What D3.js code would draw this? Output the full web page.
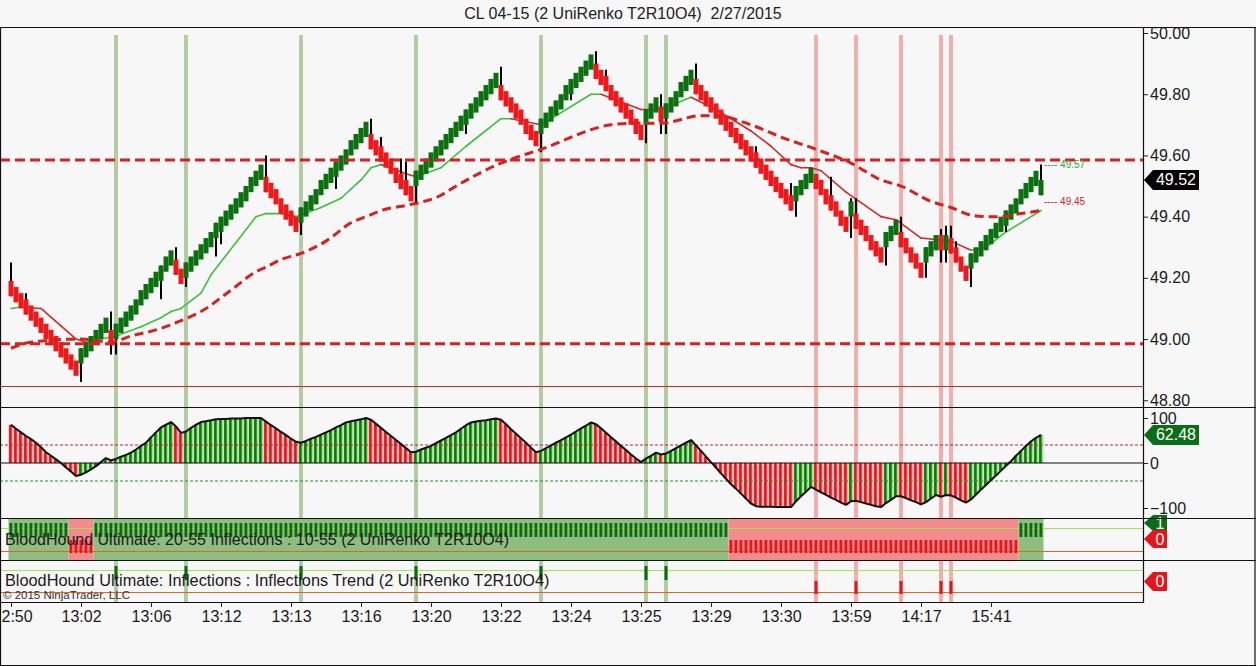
<!DOCTYPE html>
<html>
<head>
<meta charset="utf-8">
<script src="https://cdn.jsdelivr.net/npm/d3@7"></script>
<style>
html,body{margin:0;padding:0;background:#f7f7f7;}
svg{display:block;}
</style>
</head>
<body>
<svg id="chart" width="1256" height="666"></svg>
<script>
// ---------------- data ----------------
const title = "CL 04-15 (2 UniRenko T2R10O4)  2/27/2015";

const closes = [
  49.14,49.12,49.10,49.08,49.06,49.04,49.02,49.00,48.98,48.96,48.94,48.92,48.90,48.88,
  48.97,48.99,49.01,49.03,49.05,49.07,
  48.98,
  49.05,49.07,49.09,49.11,49.13,49.16,49.18,49.20,49.22,49.24,49.27,49.29,
  49.21,49.18,
  49.25,49.27,49.29,49.31,49.33,49.35,49.38,49.40,49.42,49.44,49.46,49.48,49.50,49.53,49.55,49.57,
  49.48,49.46,49.44,49.41,49.39,49.37,49.35,
  49.43,49.45,49.47,49.49,49.52,49.54,49.56,49.58,49.60,49.62,49.65,49.67,49.69,49.71,
  49.62,49.60,49.58,49.56,49.54,49.51,49.49,49.47,49.45,
  49.55,49.57,49.59,49.61,49.63,49.65,49.67,49.69,49.71,49.73,49.75,49.77,49.79,49.81,49.83,49.85,49.87,
  49.78,49.76,49.74,49.72,49.70,49.67,49.65,49.63,
  49.72,49.74,49.76,49.78,49.80,49.83,49.85,49.87,49.89,49.91,49.93,
  49.85,49.83,49.81,49.78,49.76,49.74,49.72,49.70,49.67,49.65,
  49.75,49.77,49.79,
  49.71,
  49.77,49.79,49.81,49.84,49.86,49.88,
  49.80,49.78,49.76,49.74,49.72,49.70,49.68,49.66,49.64,49.62,49.60,49.58,49.56,49.54,49.52,49.50,49.48,49.46,49.44,49.42,
  49.50,49.52,49.54,49.56,
  49.49,49.47,49.44,49.42,49.40,49.37,49.35,
  49.45,
  49.36,49.34,49.32,49.29,49.27,49.25,
  49.35,49.37,49.39,
  49.30,49.28,49.25,49.23,49.20,
  49.30,49.32,49.34,
  49.29,
  49.34,
  49.28,49.25,49.22,49.19,
  49.28,49.30,49.32,49.34,49.36,49.38,49.40,49.42,49.44,49.46,49.49,49.51,49.53,49.55,
  49.52
];

// +1 = up (green) brick, -1 = down (red) brick
const brickDir = [
  -1,-1,-1,-1,-1,-1,-1,-1,-1,-1,-1,-1,-1,-1,
  1,1,1,1,1,1,
  -1,
  1,1,1,1,1,1,1,1,1,1,1,1,
  -1,-1,
  1,1,1,1,1,1,1,1,1,1,1,1,1,1,1,1,
  -1,-1,-1,-1,-1,-1,-1,
  1,1,1,1,1,1,1,1,1,1,1,1,1,1,
  -1,-1,-1,-1,-1,-1,-1,-1,-1,
  1,1,1,1,1,1,1,1,1,1,1,1,1,1,1,1,1,
  -1,-1,-1,-1,-1,-1,-1,-1,
  1,1,1,1,1,1,1,1,1,1,1,
  -1,-1,-1,-1,-1,-1,-1,-1,-1,-1,
  1,1,1,
  -1,
  1,1,1,1,1,1,
  -1,-1,-1,-1,-1,-1,-1,-1,-1,-1,-1,-1,-1,-1,-1,-1,-1,-1,-1,-1,
  1,1,1,1,
  -1,-1,-1,-1,-1,-1,-1,
  1,
  -1,-1,-1,-1,-1,-1,
  1,1,1,
  -1,-1,-1,-1,-1,
  1,1,1,
  -1,
  1,
  -1,-1,-1,-1,
  1,1,1,1,1,1,1,1,1,1,1,1,1,1,
  1
];
const brickBody = 0.05; // open offset of a UniRenko brick

// [bar, low, high]
const wicks = [
  [0,49.14,49.25],[3,49.08,49.15],[14,48.86,48.97],[20,48.95,49.09],[21,48.95,49.05],
  [30,49.13,49.24],[33,49.21,49.30],[35,49.17,49.25],[41,49.27,49.38],[42,49.31,49.40],
  [51,49.48,49.60],[58,49.34,49.43],[65,49.49,49.58],[72,49.62,49.72],[74,49.58,49.66],
  [78,49.49,49.59],[79,49.47,49.58],[81,49.44,49.55],[91,49.67,49.75],[98,49.78,49.89],
  [106,49.61,49.72],[112,49.78,49.85],[117,49.85,49.94],[119,49.81,49.88],[127,49.64,49.75],
  [130,49.67,49.80],[131,49.67,49.77],[137,49.80,49.90],[149,49.56,49.63],[156,49.42,49.51],
  [157,49.40,49.50],[164,49.42,49.53],[168,49.33,49.46],[169,49.36,49.46],[175,49.24,49.35],
  [178,49.30,49.40],[183,49.20,49.30],[186,49.25,49.36],[187,49.25,49.37],[188,49.28,49.37],
  [189,49.25,49.32],[192,49.17,49.28],[199,49.35,49.42],[206,49.47,49.57]
];

// [bar, value]
const fastMA = [
  [0,49.10],[2,49.105],[6,49.10],[13,49.00],[15,48.99],[21,49.01],[26,49.04],[30,49.07],[32,49.09],
  [34,49.10],[38,49.15],[40,49.21],[49,49.40],[51,49.41],[54,49.41],[57,49.40],[62,49.43],
  [66,49.46],[70,49.52],[72,49.56],[74,49.57],[79,49.54],[81,49.53],[86,49.56],[91,49.63],
  [98,49.72],[100,49.72],[106,49.70],[116,49.80],[118,49.80],[126,49.75],[130,49.75],
  [136,49.79],[141,49.75],[148,49.68],[152,49.63],[156,49.57],[158,49.56],[160,49.56],
  [162,49.55],[167,49.48],[174,49.40],[177,49.39],[182,49.33],[188,49.32],[192,49.29],
  [195,49.30],[199,49.35],[206,49.42]
];

const slowMA = [
  [0,48.97],[4,48.99],[14,49.00],[20,48.99],[24,49.01],[29,49.03],[34,49.06],[38,49.09],
  [44,49.16],[49,49.22],[51,49.235],[54,49.26],[58,49.28],[63,49.32],[68,49.38],[71,49.40],
  [74,49.42],[80,49.44],[86,49.47],[88,49.49],[98,49.575],[106,49.62],[120,49.70],
  [124,49.705],[130,49.705],[138,49.73],[141,49.73],[148,49.70],[154,49.66],[161,49.62],
  [168,49.575],[174,49.52],[178,49.50],[184,49.45],[188,49.43],[192,49.405],[195,49.40],
  [198,49.40],[202,49.41],[206,49.42]
];

const oscValues = [
  85,76,68,60,53,45,35,24,16,8,
  0,-10,-19,-29,-26,-21,-14,-7,2,11,
  6,9,14,18,23,30,38,45,57,68,
  79,85,91,81,67,70,78,85,91,93,
  95,97,98,98,99,99,99,100,100,100,
  100,92,84,77,69,62,54,47,45,49,
  54,58,63,68,73,79,84,90,93,95,
  97,100,96,87,78,69,60,51,42,33,
  24,25,30,34,38,44,50,56,62,68,
  76,84,90,92,94,95,97,99,96,86,
  75,65,55,45,34,24,27,33,39,45,
  51,57,63,70,77,83,90,86,77,67,
  57,48,38,29,19,10,2,10,16,23,
  19,21,27,33,39,45,51,39,27,14,
  2,-10,-23,-35,-47,-57,-68,-79,-90,-96,
  -97,-97,-97,-98,-98,-98,-98,-85,-74,-64,
  -53,-59,-65,-71,-77,-82,-88,-93,-85,-84,
  -87,-90,-93,-96,-98,-89,-82,-74,-74,-78,
  -83,-87,-92,-87,-79,-71,-75,-71,-72,-77,
  -83,-88,-81,-70,-59,-49,-38,-28,-17,-6,
  4,16,27,38,48,56,62.48
];

const priceLevels = [49.585, 48.985];
const lowLine = 48.845;
const priceTicks = [48.8, 49.0, 49.2, 49.4, 49.6, 49.8, 50.0];
const oscTicks = [-100, 0, 100];
const oscLevels = [40, -40];
const timeLabels = ["2:50","13:02","13:06","13:12","13:13","13:16","13:20","13:22","13:24","13:25","13:29","13:30","13:59","14:17","15:41"];
const timeLabelBars = [0,14,28,42,56,70,84,98,112,126,140,154,168,182,196];
const greenSignals = [21,35,58,81,106,127,131];
const redSignals = [161,169,178,186,188];
// [firstBar, lastBar, state] 1 = up trend, 0 = down trend
const trendRuns = [[0,11,1],[12,16,0],[17,143,1],[144,201,0],[202,206,1]];
const panel3Text = "BloodHound Ultimate: 20-55 Inflections : 10-55 (2 UniRenko T2R10O4)";
const panel4Text = "BloodHound Ultimate: Inflections : Inflections Trend (2 UniRenko T2R10O4)";
const lastPrice = 49.52;
const lastOsc = 62.48;
const maLabels = [{v:49.57, text:"---- 49.57", c:"#3f9c3f"}, {v:49.45, text:"---- 49.45", c:"#e0231e"}];
const copyright = "\u00A9 2015 NinjaTrader, LLC";

// ---------------- layout ----------------
const W = 1256, H = 666;
const AX = 1143;
const P1 = [27, 407], P2 = [407, 518], P3 = [518, 560], P4 = [560, 602];
const FONT = "'Liberation Sans', Arial, Helvetica, sans-serif";
const GREEN = "#0b700f", RED = "#f0171b";
const GREEN_L = "#a9e198", RED_L = "#f7b3b3";

const svg = d3.select("#chart").style("font-family", FONT);
svg.append("rect").attr("width", W).attr("height", H).attr("fill", "#f7f7f7");

const x = d3.scaleLinear().domain([0, closes.length - 1]).range([11, 1041]);
const step = x(1) - x(0);
const yP = d3.scaleLinear().domain([48.8, 50]).range([400.3, 33]);
const yO = d3.scaleLinear().domain([-100, 100]).range([508, 418]);

const defs = svg.append("defs");
function clip(id, x0, y0, w, h) {
  defs.append("clipPath").attr("id", id).append("rect").attr("x", x0).attr("y", y0).attr("width", w).attr("height", h);
  return `url(#${id})`;
}
const clipMain = clip("cMain", 0, P1[0] + 1, AX, P1[1] - P1[0] - 1);
const clipOsc = clip("cOsc", 0, P2[0] + 1, AX, P2[1] - P2[0] - 1);
const clipAxisMain = clip("cAxMain", AX, P1[0] + 1, W - AX, P1[1] - P1[0] - 1);

// title
svg.append("text").attr("x", 623).attr("y", 19).attr("text-anchor", "middle").style("white-space", "pre")
  .attr("font-size", 16).attr("fill", "#222").text(title);

// signal bands
function drawBands(g, y0, y1) {
  greenSignals.forEach(i => g.append("rect").attr("x", x(i) - 2).attr("y", y0).attr("width", 4)
    .attr("height", y1 - y0).attr("fill", "#b3cca5"));
  redSignals.forEach(i => g.append("rect").attr("x", x(i) - 2).attr("y", y0).attr("width", 4)
    .attr("height", y1 - y0).attr("fill", "#f2aeab"));
}

// ---------- main panel ----------
const gMain = svg.append("g").attr("clip-path", clipMain);
drawBands(gMain, 35, P1[1]);

// fast MA coloured by slope
let prevCol = "#3cbf3c";
for (let k = 1; k < fastMA.length; k++) {
  const [i0, v0] = fastMA[k - 1], [i1, v1] = fastMA[k];
  const col = v1 > v0 ? "#3cbf3c" : v1 < v0 ? "#d8262a" : prevCol;
  prevCol = col;
  gMain.append("line").attr("x1", x(i0)).attr("y1", yP(v0)).attr("x2", x(i1)).attr("y2", yP(v1))
    .attr("stroke", col).attr("stroke-width", 1.6).attr("stroke-linecap", "round");
}

// wicks
gMain.selectAll("line.wick").data(wicks).join("line").attr("class", "wick")
  .attr("x1", d => x(d[0])).attr("x2", d => x(d[0]))
  .attr("y1", d => yP(d[1])).attr("y2", d => yP(d[2]))
  .attr("stroke", "#000").attr("stroke-width", 2);

// bricks
gMain.selectAll("rect.brick").data(closes).join("rect").attr("class", "brick")
  .attr("x", (c, i) => x(i) - step / 2)
  .attr("width", step)
  .attr("y", (c, i) => yP(Math.max(c, c - brickDir[i] * brickBody)))
  .attr("height", (c, i) => Math.abs(yP(c) - yP(c - brickDir[i] * brickBody)))
  .attr("fill", (c, i) => brickDir[i] > 0 ? GREEN : RED);

// slow MA dashed
gMain.append("path").datum(slowMA)
  .attr("d", d3.line().x(d => x(d[0])).y(d => yP(d[1])).curve(d3.curveMonotoneX))
  .attr("fill", "none").attr("stroke", "#dc1e1e").attr("stroke-width", 3).attr("stroke-dasharray", "9,5");

// horizontal levels
priceLevels.forEach(v => gMain.append("line").attr("x1", 0).attr("x2", AX).attr("y1", yP(v)).attr("y2", yP(v))
  .attr("stroke", "#dc1e1e").attr("stroke-width", 3).attr("stroke-dasharray", "10,5"));
gMain.append("line").attr("x1", 0).attr("x2", AX).attr("y1", yP(lowLine)).attr("y2", yP(lowLine))
  .attr("stroke", "#cc2a22").attr("stroke-width", 1);

// MA value labels
maLabels.forEach(m => svg.append("text").attr("x", 1044).attr("y", yP(m.v) + 3.5)
  .attr("font-size", 10).attr("fill", m.c).text(m.text));

// price axis (clipped to the main panel)
const axPWrap = svg.append("g").attr("clip-path", clipAxisMain);
const axP = axPWrap.append("g").attr("transform", `translate(${AX},0)`)
  .call(d3.axisRight(yP).tickValues(priceTicks).tickFormat(d3.format(".2f")).tickSize(5).tickPadding(2));
axP.select(".domain").remove();
axP.selectAll("text").attr("font-size", 16).attr("font-family", FONT).attr("fill", "#1a1a1a");
axP.selectAll("line").attr("stroke", "#222");

// ---------- oscillator panel ----------
const gOsc = svg.append("g").attr("clip-path", clipOsc);
drawBands(gOsc, P2[0], P2[1]);
gOsc.selectAll("rect.oscL").data(oscValues).join("rect").attr("class", "oscL")
  .attr("x", (v, i) => x(i) - step / 2).attr("width", step)
  .attr("y", v => Math.min(yO(v), yO(0))).attr("height", v => Math.abs(yO(v) - yO(0)))
  .attr("fill", (v, i) => brickDir[i] > 0 ? GREEN_L : RED_L);
gOsc.selectAll("rect.oscD").data(oscValues).join("rect").attr("class", "oscD")
  .attr("x", (v, i) => x(i) - 1.9).attr("width", 2.6)
  .attr("y", v => Math.min(yO(v), yO(0))).attr("height", v => Math.abs(yO(v) - yO(0)))
  .attr("fill", (v, i) => brickDir[i] > 0 ? "#0c7a0c" : "#e4141b");
gOsc.append("line").attr("x1", 0).attr("x2", AX).attr("y1", yO(0)).attr("y2", yO(0))
  .attr("stroke", "#111").attr("stroke-width", 1.2);
oscLevels.forEach(v => gOsc.append("line").attr("x1", 0).attr("x2", AX).attr("y1", yO(v)).attr("y2", yO(v))
  .attr("stroke", v > 0 ? "#c0262a" : "#2e8b2e").attr("stroke-width", 1).attr("stroke-dasharray", "3,2"));
gOsc.append("path").datum(oscValues)
  .attr("d", d3.line().x((v, i) => x(i)).y(v => yO(v)))
  .attr("fill", "none").attr("stroke", "#111").attr("stroke-width", 2).attr("stroke-linejoin", "round");

const axO = svg.append("g").attr("transform", `translate(${AX},0)`)
  .call(d3.axisRight(yO).tickValues(oscTicks).tickFormat(d3.format("d")).tickSize(5).tickPadding(2));
axO.select(".domain").remove();
axO.selectAll("text").attr("font-size", 16).attr("font-family", FONT).attr("fill", "#1a1a1a");
axO.selectAll("line").attr("stroke", "#222");

// ---------- panel 3 (trend state) ----------
const g3 = svg.append("g");
trendRuns.forEach(([a, b, s]) => {
  g3.append("rect").attr("x", x(a) - step / 2).attr("y", P3[0] + 1)
    .attr("width", x(b) - x(a) + step).attr("height", P3[1] - P3[0] - 1)
    .attr("fill", s ? "#8dbd7f" : "#f28b8b");
});
g3.append("line").attr("x1", 0).attr("x2", AX).attr("y1", 528.5).attr("y2", 528.5).attr("stroke", "#a6e05a").attr("stroke-width", 1);
g3.append("line").attr("x1", 0).attr("x2", AX).attr("y1", 551.5).attr("y2", 551.5).attr("stroke", "#e8602a").attr("stroke-width", 1);
trendRuns.forEach(([a, b, s]) => {
  const idx = d3.range(a, b + 1);
  g3.selectAll(null).data(idx).join("rect")
    .attr("x", i => x(i) - 1.5).attr("width", 2.8)
    .attr("y", s ? 523 : 540).attr("height", s ? 14 : 13)
    .attr("fill", s ? "#0c6b0c" : "#e8141b");
});
g3.append("text").attr("x", 5).attr("y", 545).attr("font-size", 16).attr("fill", "#1a1a1a").text(panel3Text);

// ---------- panel 4 (inflections) ----------
const g4 = svg.append("g");
drawBands(g4, P4[0] + 1, P4[1]);
g4.append("line").attr("x1", 0).attr("x2", AX).attr("y1", 570.5).attr("y2", 570.5).attr("stroke", "#a6e05a").attr("stroke-width", 1);
g4.append("line").attr("x1", 0).attr("x2", AX).attr("y1", 592.5).attr("y2", 592.5).attr("stroke", "#e8602a").attr("stroke-width", 1);
greenSignals.forEach(i => g4.append("rect").attr("x", x(i) - 1.5).attr("y", 566).attr("width", 3).attr("height", 14).attr("fill", "#0c6b0c"));
redSignals.forEach(i => g4.append("rect").attr("x", x(i) - 1.5).attr("y", 581).attr("width", 3).attr("height", 13).attr("fill", "#e8141b"));
g4.append("text").attr("x", 5).attr("y", 586).attr("font-size", 16.3).attr("fill", "#1a1a1a").text(panel4Text);
g4.append("text").attr("x", 3).attr("y", 599).attr("font-size", 11.5).attr("fill", "#333").text(copyright);

// ---------- time axis ----------
const axT = svg.append("g").attr("transform", `translate(0,${P4[1]})`)
  .call(d3.axisBottom(x).tickValues(timeLabelBars).tickFormat((d, k) => timeLabels[k]).tickSize(5).tickPadding(4));
axT.select(".domain").remove();
axT.selectAll("text").attr("font-size", 16).attr("font-family", FONT).attr("fill", "#1a1a1a");
axT.selectAll("line").attr("stroke", "#222");
// the first label sits at the left edge of the chart
axT.selectAll("text").filter((d, k) => k === 0).attr("text-anchor", "start").attr("x", 1 - x(timeLabelBars[0]));

// ---------- tags ----------
function tag(yc, label, fill, w, h) {
  const x0 = AX + 1;
  svg.append("path").attr("d", `M${x0},${yc} L${x0 + 9},${yc - h / 2} L${x0 + w},${yc - h / 2} L${x0 + w},${yc + h / 2} L${x0 + 9},${yc + h / 2} Z`)
    .attr("fill", fill);
  svg.append("text").attr("x", x0 + 9 + (w - 9) / 2).attr("y", yc + 5.5).attr("text-anchor", "middle")
    .attr("font-size", 16).attr("fill", "#fff").text(label);
}
tag(yP(lastPrice), d3.format(".2f")(lastPrice), "#000", 55, 20);
tag(yO(lastOsc), d3.format(".2f")(lastOsc), "#0b6e16", 55, 20);
tag(523, "1", "#0b6e16", 23, 16);
tag(539, "0", "#e8141b", 23, 18);
tag(581.5, "0", "#e8141b", 23, 19);

// ---------- frame ----------
const fr = svg.append("g").attr("stroke", "#111").attr("stroke-width", 1.2).attr("fill", "none");
fr.append("line").attr("x1", 0).attr("x2", W).attr("y1", 27.5).attr("y2", 27.5);
fr.append("line").attr("x1", 0.5).attr("x2", 0.5).attr("y1", 27).attr("y2", 666);
fr.append("line").attr("x1", W - 1).attr("x2", W - 1).attr("y1", 27).attr("y2", 666);
fr.append("line").attr("x1", 0).attr("x2", W).attr("y1", 665.5).attr("y2", 665.5);
[P1[1], P2[1], P3[1]].forEach(y => fr.append("line").attr("x1", 0).attr("x2", W).attr("y1", y + 0.5).attr("y2", y + 0.5));
fr.append("line").attr("x1", 0).attr("x2", AX).attr("y1", P4[1] + 0.5).attr("y2", P4[1] + 0.5);
fr.append("line").attr("x1", AX + 0.5).attr("x2", AX + 0.5).attr("y1", 27).attr("y2", P4[1] + 1);
</script>
</body>
</html>
